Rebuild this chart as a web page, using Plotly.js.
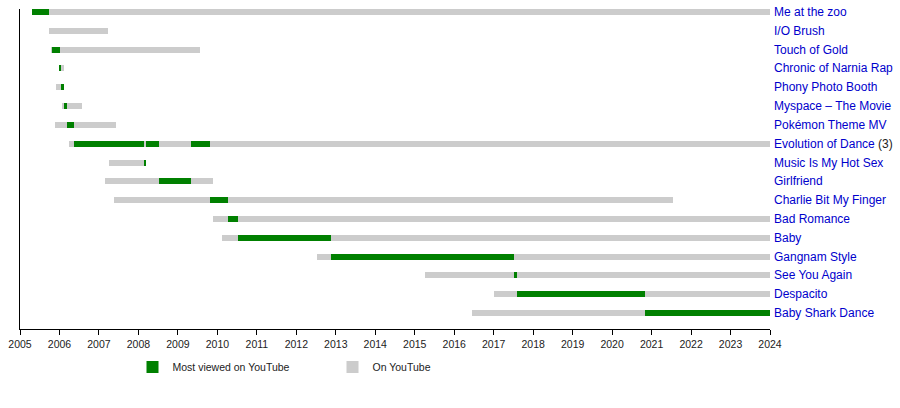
<!DOCTYPE html>
<html>
<head>
<meta charset="utf-8">
<script src="https://cdn.plot.ly/plotly-3.0.1.min.js"></script>
<style>html,body{margin:0;padding:0;background:#fff}#chart{width:900px;height:408px}</style>
</head>
<body>
<div id="chart"></div>
<script>
// Videos (top to bottom)
var videos = ["Me at the zoo","I/O Brush","Touch of Gold","Chronic of Narnia Rap","Phony Photo Booth",
  "Myspace – The Movie","Pokémon Theme MV","Evolution of Dance","Music Is My Hot Sex","Girlfriend",
  "Charlie Bit My Finger","Bad Romance","Baby","Gangnam Style","See You Again","Despacito","Baby Shark Dance"];
var videoNotes = ["","","","","","","","(3)","","","","","","","","",""];
// Period on YouTube (decimal years)
var onStart = [2005.30,2005.74,2005.79,2005.99,2005.91,2006.06,2005.89,2006.24,2007.25,2007.15,2007.38,2009.89,2010.12,2012.52,2015.26,2017.01,2016.45];
var onEnd   = [2024.00,2007.23,2009.56,2006.12,2006.12,2006.57,2007.43,2024.00,2008.19,2009.89,2021.54,2024.00,2024.00,2024.00,2024.00,2024.00,2024.00];
// Periods as most viewed video
var topRow   = [0,2,3,4,5,6,7,7,7,8,9,10,11,12,13,14,15,16];
var topStart = [2005.30,2005.81,2006.00,2006.04,2006.12,2006.19,2006.37,2008.19,2009.33,2008.14,2008.52,2009.81,2010.27,2010.52,2012.88,2017.52,2017.59,2020.83];
var topEnd   = [2005.74,2006.01,2006.04,2006.12,2006.19,2006.37,2008.14,2008.52,2009.81,2008.19,2009.33,2010.27,2010.52,2012.88,2017.52,2017.59,2020.83,2024.00];
var years = [];
for (var yr = 2005; yr <= 2024; yr++) years.push(yr);

var rows = videos.map(function(v, i){ return i; });
var gray = {
  type: 'bar', orientation: 'h', name: 'On YouTube', legendrank: 2,
  y: rows, base: onStart, x: onEnd.map(function(e, i){ return e - onStart[i]; }),
  width: 0.32, marker: {color: '#cccccc', line: {width: 0}}, hoverinfo: 'skip'
};
var green = {
  type: 'bar', orientation: 'h', name: 'Most viewed on YouTube', legendrank: 1,
  y: topRow, base: topStart, x: topEnd.map(function(e, i){ return e - topStart[i]; }),
  width: 0.32, marker: {color: '#008000', line: {width: 0}}, hoverinfo: 'skip'
};

var annotations = videos.map(function(v, i){
  var t = v + (videoNotes[i] ? ' <span style="color:#222222">' + videoNotes[i] + '</span>' : '');
  return {xref: 'paper', x: 1, xanchor: 'left', xshift: 2, yref: 'y', y: i, yanchor: 'middle',
    text: t, showarrow: false, font: {family: 'Liberation Sans, Arial, sans-serif', size: 12, color: '#0000cc'}};
});

var layout = {
  width: 900, height: 408,
  margin: {l: 20, r: 130, t: 9, b: 79, pad: 0},
  paper_bgcolor: '#fff', plot_bgcolor: '#fff',
  barmode: 'overlay', bargap: 0,
  font: {family: 'Liberation Sans, Arial, sans-serif', size: 10.5, color: '#222'},
  xaxis: {range: [2005, 2024], tickvals: years, ticktext: years.map(String), showgrid: false, zeroline: false,
    showline: true, linecolor: '#000', linewidth: 1, ticks: 'outside', ticklen: 5, tickcolor: '#000',
    tickfont: {size: 10.5, color: '#222'}, fixedrange: true},
  yaxis: {range: [16.85, -0.16], showgrid: false, zeroline: false, showticklabels: false,
    showline: true, linecolor: '#000', linewidth: 1, ticks: '', fixedrange: true},
  showlegend: true,
  legend: {orientation: 'h', x: 0.150, xanchor: 'left', y: -0.119, yanchor: 'middle',
    entrywidth: 155, entrywidthmode: 'pixels', traceorder: 'normal',
    font: {size: 10.5, color: '#222'}, bgcolor: 'rgba(0,0,0,0)'},
  annotations: annotations
};
Plotly.newPlot('chart', [gray, green], layout, {staticPlot: true, displayModeBar: false});
</script>
</body>
</html>
